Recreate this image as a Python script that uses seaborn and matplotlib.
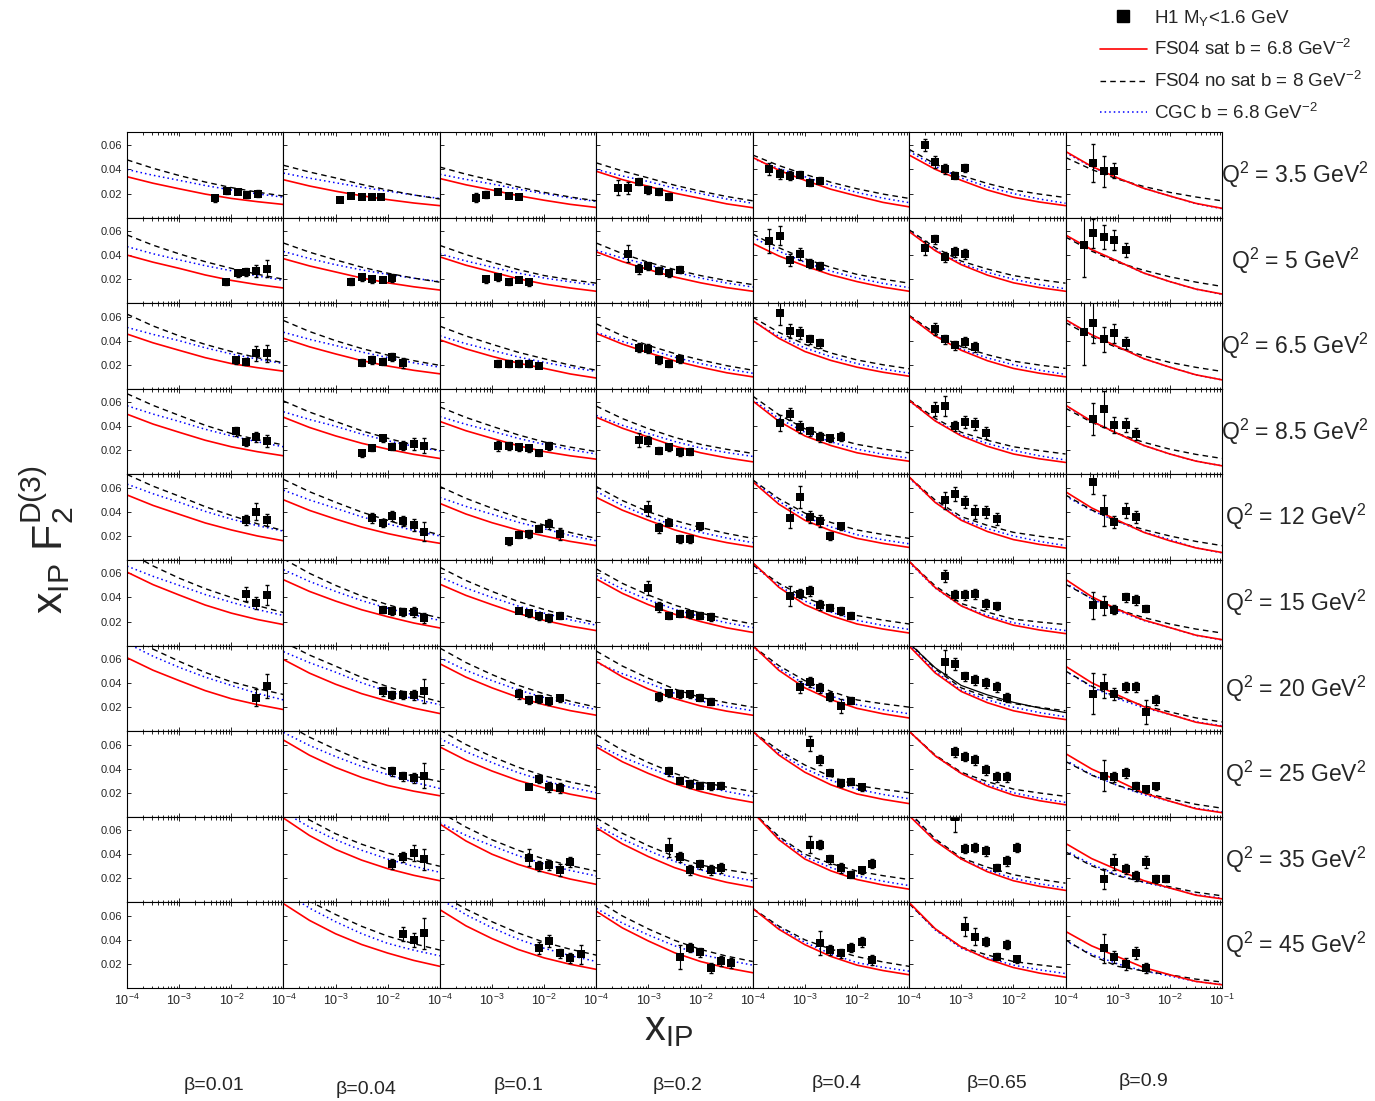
import matplotlib
matplotlib.use("Agg")
import matplotlib.pyplot as plt
from matplotlib.lines import Line2D
from matplotlib.ticker import LogLocator, NullFormatter
import seaborn as sns

# x grid where the model curves are read (log10 x_IP = -4, -3.5, ..., -1)
XGRID = [1e-4, 3.16e-4, 1e-3, 3.16e-3, 1e-2, 3.16e-2, 1e-1]
Q2_VALUES = ["3.5", "5", "6.5", "8.5", "12", "15", "20", "25", "35", "45"]
BETAS = ["0.01", "0.04", "0.1", "0.2", "0.4", "0.65", "0.9"]

# FS04 sat (red), rows = Q2, cols = beta
SAT = [
    [[0.034, 0.0286, 0.024, 0.0196, 0.016, 0.0133, 0.011], [0.0315, 0.0263, 0.022, 0.0182, 0.015, 0.0122, 0.010], [0.0325, 0.0273, 0.023, 0.0183, 0.0145, 0.0111, 0.0085], [0.0385, 0.0316, 0.026, 0.0204, 0.016, 0.0115, 0.0083], [0.050, 0.0394, 0.031, 0.0236, 0.018, 0.0127, 0.009], [0.052, 0.0402, 0.031, 0.023, 0.017, 0.0130, 0.010], [0.055, 0.0426, 0.033, 0.0244, 0.018, 0.0119, 0.0078]],
    [[0.040, 0.0341, 0.029, 0.0235, 0.019, 0.0155, 0.0127], [0.037, 0.0310, 0.026, 0.0210, 0.017, 0.0137, 0.011], [0.0385, 0.0316, 0.026, 0.0204, 0.016, 0.0127, 0.010], [0.0427, 0.0346, 0.028, 0.0218, 0.017, 0.0130, 0.010], [0.0497, 0.0393, 0.031, 0.0236, 0.018, 0.0134, 0.010], [0.0595, 0.0437, 0.032, 0.0234, 0.017, 0.0130, 0.010], [0.0567, 0.0446, 0.035, 0.0251, 0.018, 0.0118, 0.0077]],
    [[0.0455, 0.0382, 0.032, 0.0259, 0.021, 0.0176, 0.0147], [0.042, 0.0349, 0.029, 0.0235, 0.019, 0.0154, 0.0125], [0.0407, 0.0332, 0.027, 0.0214, 0.017, 0.0124, 0.009], [0.046, 0.0372, 0.030, 0.0233, 0.018, 0.0134, 0.010], [0.0567, 0.0420, 0.031, 0.0236, 0.018, 0.0138, 0.0105], [0.0603, 0.0440, 0.032, 0.0234, 0.017, 0.0130, 0.010], [0.0575, 0.0449, 0.035, 0.0251, 0.018, 0.0117, 0.0075]],
    [[0.050, 0.0418, 0.035, 0.0284, 0.023, 0.0189, 0.0155], [0.0475, 0.0390, 0.032, 0.0259, 0.021, 0.0167, 0.0133], [0.044, 0.0363, 0.030, 0.0239, 0.019, 0.0155, 0.0127], [0.0475, 0.0384, 0.031, 0.0236, 0.018, 0.0138, 0.0105], [0.061, 0.0442, 0.032, 0.0240, 0.018, 0.0141, 0.011], [0.0615, 0.0444, 0.032, 0.0234, 0.017, 0.0130, 0.010], [0.0575, 0.0442, 0.034, 0.0241, 0.017, 0.0111, 0.0072]],
    [[0.054, 0.0453, 0.038, 0.0308, 0.025, 0.0200, 0.016], [0.050, 0.0412, 0.034, 0.0274, 0.022, 0.0175, 0.0139], [0.047, 0.0382, 0.031, 0.0249, 0.020, 0.0155, 0.012], [0.052, 0.0414, 0.033, 0.0251, 0.019, 0.0145, 0.011], [0.065, 0.0464, 0.033, 0.0244, 0.018, 0.0138, 0.0105], [0.069, 0.0478, 0.033, 0.0237, 0.017, 0.0130, 0.010], [0.0567, 0.0433, 0.033, 0.0230, 0.016, 0.0101, 0.0063]],
    [[0.061, 0.0506, 0.042, 0.0337, 0.027, 0.0217, 0.0175], [0.0547, 0.0450, 0.037, 0.0298, 0.024, 0.0188, 0.0147], [0.051, 0.0417, 0.034, 0.0267, 0.021, 0.0162, 0.0125], [0.0553, 0.0434, 0.034, 0.0261, 0.020, 0.0148, 0.011], [0.069, 0.0485, 0.034, 0.0248, 0.018, 0.0138, 0.0105], [0.070, 0.0482, 0.033, 0.0237, 0.017, 0.0130, 0.010], [0.055, 0.0407, 0.030, 0.0213, 0.015, 0.0087, 0.005]],
    [[0.061, 0.0506, 0.042, 0.0337, 0.027, 0.0221, 0.018], [0.0595, 0.0482, 0.039, 0.0312, 0.025, 0.0192, 0.0147], [0.056, 0.0449, 0.036, 0.0282, 0.022, 0.0171, 0.0133], [0.058, 0.0451, 0.035, 0.0271, 0.021, 0.0167, 0.0133], [0.071, 0.0506, 0.036, 0.0262, 0.019, 0.0145, 0.011], [0.0707, 0.0484, 0.033, 0.0237, 0.017, 0.0128, 0.0097], [0.054, 0.0403, 0.030, 0.0205, 0.014, 0.0075, 0.004]],
    [None, [0.0637, 0.0511, 0.041, 0.0327, 0.026, 0.0213, 0.0175], [0.058, 0.0470, 0.038, 0.0302, 0.024, 0.0188, 0.0147], [0.058, 0.0457, 0.036, 0.0275, 0.021, 0.0159, 0.012], [0.071, 0.0513, 0.037, 0.0266, 0.019, 0.0145, 0.011], [0.071, 0.0506, 0.036, 0.0255, 0.018, 0.0134, 0.010], [0.0525, 0.0397, 0.030, 0.0198, 0.013, 0.0067, 0.0035]],
    [None, [0.070, 0.0555, 0.044, 0.0351, 0.028, 0.0225, 0.018], [0.065, 0.0510, 0.040, 0.0316, 0.025, 0.0194, 0.015], [0.062, 0.0486, 0.038, 0.0289, 0.022, 0.0167, 0.0127], [0.075, 0.0521, 0.036, 0.0262, 0.019, 0.0145, 0.011], [0.072, 0.0510, 0.036, 0.0255, 0.018, 0.0134, 0.010], [0.049, 0.0364, 0.027, 0.0181, 0.012, 0.0060, 0.003]],
    [None, [0.070, 0.0561, 0.045, 0.0361, 0.029, 0.0229, 0.018], [0.065, 0.0516, 0.041, 0.0320, 0.025, 0.0197, 0.0155], [0.0637, 0.0499, 0.039, 0.0293, 0.022, 0.0167, 0.0127], [0.066, 0.0488, 0.036, 0.0262, 0.019, 0.0145, 0.011], [0.071, 0.0492, 0.034, 0.0241, 0.017, 0.0124, 0.009], [0.047, 0.0350, 0.026, 0.0170, 0.011, 0.0055, 0.0027]],
]

# FS04 no sat (black dashed)
NOSAT = [
    [[0.048, 0.0410, 0.035, 0.0296, 0.025, 0.0212, 0.018], [0.0435, 0.0379, 0.033, 0.0276, 0.023, 0.0189, 0.0155], [0.042, 0.0361, 0.031, 0.0255, 0.021, 0.0172, 0.014], [0.0455, 0.0388, 0.033, 0.0270, 0.022, 0.0176, 0.014], [0.052, 0.0433, 0.036, 0.0294, 0.024, 0.0196, 0.016], [0.0567, 0.0446, 0.035, 0.0284, 0.023, 0.0196, 0.0167], [0.050, 0.0400, 0.032, 0.0259, 0.021, 0.0172, 0.014]],
    [[0.0567, 0.0482, 0.041, 0.0345, 0.029, 0.0241, 0.020], [0.050, 0.0424, 0.036, 0.0300, 0.025, 0.0209, 0.0175], [0.048, 0.0404, 0.034, 0.0280, 0.023, 0.0196, 0.0167], [0.050, 0.0412, 0.034, 0.0280, 0.023, 0.0189, 0.0155], [0.0575, 0.0461, 0.037, 0.0298, 0.024, 0.0200, 0.0167], [0.061, 0.0462, 0.035, 0.0284, 0.023, 0.0196, 0.0167], [0.055, 0.0433, 0.034, 0.0274, 0.022, 0.0176, 0.014]],
    [[0.062, 0.0522, 0.044, 0.0369, 0.031, 0.0259, 0.0217], [0.0567, 0.0476, 0.040, 0.0335, 0.028, 0.0234, 0.0195], [0.052, 0.0439, 0.037, 0.0304, 0.025, 0.0197, 0.0155], [0.054, 0.0441, 0.036, 0.0294, 0.024, 0.0193, 0.0155], [0.0595, 0.0469, 0.037, 0.0298, 0.024, 0.0200, 0.0167], [0.061, 0.0462, 0.035, 0.0284, 0.023, 0.0198, 0.017], [0.055, 0.0433, 0.034, 0.0274, 0.022, 0.0179, 0.0145]],
    [[0.067, 0.0573, 0.049, 0.0408, 0.034, 0.0289, 0.0245], [0.061, 0.0518, 0.044, 0.0363, 0.030, 0.0245, 0.020], [0.056, 0.0473, 0.040, 0.0329, 0.027, 0.0227, 0.019], [0.0567, 0.0464, 0.038, 0.0308, 0.025, 0.0209, 0.0175], [0.065, 0.0497, 0.038, 0.0308, 0.025, 0.0212, 0.018], [0.062, 0.0466, 0.035, 0.0284, 0.023, 0.0198, 0.017], [0.055, 0.0433, 0.034, 0.0267, 0.021, 0.0167, 0.0133]],
    [[0.071, 0.0613, 0.053, 0.0443, 0.037, 0.0301, 0.0245], [0.067, 0.0567, 0.048, 0.0398, 0.033, 0.0263, 0.021], [0.061, 0.0512, 0.043, 0.0353, 0.029, 0.0229, 0.018], [0.061, 0.0494, 0.040, 0.0329, 0.027, 0.0221, 0.018], [0.0665, 0.0510, 0.039, 0.0312, 0.025, 0.0212, 0.018], [0.0688, 0.0498, 0.036, 0.0288, 0.023, 0.0198, 0.017], [0.054, 0.0416, 0.032, 0.0253, 0.020, 0.0155, 0.012]],
    [[0.078, 0.0661, 0.056, 0.0473, 0.040, 0.0332, 0.0275], [0.072, 0.0600, 0.050, 0.0412, 0.034, 0.0280, 0.023], [0.065, 0.0541, 0.045, 0.0367, 0.030, 0.0239, 0.019], [0.0637, 0.0517, 0.042, 0.0337, 0.027, 0.0221, 0.018], [0.067, 0.0518, 0.040, 0.0316, 0.025, 0.0212, 0.018], [0.070, 0.0496, 0.035, 0.0278, 0.022, 0.0196, 0.0175], [0.051, 0.0391, 0.030, 0.0233, 0.018, 0.0138, 0.0105]],
    [[0.080, 0.0681, 0.058, 0.0488, 0.041, 0.0354, 0.0305], [0.074, 0.0632, 0.054, 0.0447, 0.037, 0.0301, 0.0245], [0.069, 0.0570, 0.047, 0.0382, 0.031, 0.0249, 0.020], [0.0665, 0.0541, 0.044, 0.0351, 0.028, 0.0237, 0.020], [0.0707, 0.0545, 0.042, 0.0331, 0.026, 0.0228, 0.020], [0.074, 0.0517, 0.036, 0.0284, 0.023, 0.0198, 0.017], [0.050, 0.0374, 0.028, 0.0212, 0.016, 0.0111, 0.0077]],
    [None, [0.078, 0.0661, 0.056, 0.0467, 0.039, 0.0338, 0.0293], [0.072, 0.0600, 0.050, 0.0412, 0.034, 0.0289, 0.0245], [0.068, 0.0553, 0.045, 0.0361, 0.029, 0.0247, 0.021], [0.0707, 0.0552, 0.043, 0.0335, 0.026, 0.0228, 0.020], [0.071, 0.0513, 0.037, 0.0292, 0.023, 0.0198, 0.017], [0.046, 0.0346, 0.026, 0.0198, 0.015, 0.0104, 0.0072]],
    [None, [0.082, 0.0684, 0.057, 0.0483, 0.041, 0.0351, 0.030], [0.075, 0.0625, 0.052, 0.0433, 0.036, 0.0306, 0.026], [0.070, 0.0574, 0.047, 0.0382, 0.031, 0.0271, 0.0237], [0.075, 0.0548, 0.040, 0.0323, 0.026, 0.0222, 0.019], [0.075, 0.0528, 0.037, 0.0292, 0.023, 0.0192, 0.016], [0.042, 0.0304, 0.022, 0.0169, 0.013, 0.0085, 0.0055]],
    [None, [0.085, 0.0720, 0.061, 0.0512, 0.043, 0.0368, 0.0315], [0.078, 0.0655, 0.055, 0.0457, 0.038, 0.0322, 0.0273], [0.073, 0.0598, 0.049, 0.0396, 0.032, 0.0265, 0.022], [0.066, 0.0514, 0.040, 0.0323, 0.026, 0.0216, 0.018], [0.070, 0.0489, 0.034, 0.0274, 0.022, 0.0192, 0.0167], [0.040, 0.0269, 0.018, 0.0141, 0.011, 0.0074, 0.005]],
]

# CGC (blue dotted)
CGC = [
    [[0.040, 0.0352, 0.031, 0.0267, 0.023, 0.0198, 0.017], [0.037, 0.0328, 0.029, 0.0253, 0.022, 0.0188, 0.016], [0.036, 0.0318, 0.028, 0.0237, 0.020, 0.0164, 0.0135], [0.040, 0.0346, 0.030, 0.0245, 0.020, 0.0155, 0.012], [0.049, 0.0408, 0.034, 0.0267, 0.021, 0.0162, 0.0125], [0.055, 0.0426, 0.033, 0.0257, 0.020, 0.0155, 0.012], [0.054, 0.0422, 0.033, 0.0244, 0.018, 0.0117, 0.0075]],
    [[0.047, 0.0411, 0.036, 0.0312, 0.027, 0.0227, 0.019], [0.043, 0.0371, 0.032, 0.0277, 0.024, 0.0208, 0.018], [0.041, 0.0351, 0.030, 0.0251, 0.021, 0.0178, 0.015], [0.044, 0.0375, 0.032, 0.0259, 0.021, 0.0168, 0.0135], [0.055, 0.0433, 0.034, 0.0267, 0.021, 0.0165, 0.013], [0.060, 0.0445, 0.033, 0.0257, 0.020, 0.0155, 0.012], [0.056, 0.0443, 0.035, 0.0251, 0.018, 0.0117, 0.0075]],
    [[0.051, 0.0452, 0.040, 0.0341, 0.029, 0.0247, 0.021], [0.047, 0.0411, 0.036, 0.0306, 0.026, 0.0216, 0.018], [0.044, 0.0375, 0.032, 0.0265, 0.022, 0.0179, 0.0145], [0.047, 0.0394, 0.033, 0.0263, 0.021, 0.0165, 0.013], [0.056, 0.0437, 0.034, 0.0267, 0.021, 0.0165, 0.013], [0.060, 0.0445, 0.033, 0.0257, 0.020, 0.0155, 0.012], [0.057, 0.0447, 0.035, 0.0251, 0.018, 0.0117, 0.0075]],
    [[0.057, 0.0501, 0.044, 0.0375, 0.032, 0.0271, 0.023], [0.052, 0.0456, 0.040, 0.0335, 0.028, 0.0234, 0.0195], [0.048, 0.0416, 0.036, 0.0300, 0.025, 0.0206, 0.017], [0.049, 0.0408, 0.034, 0.0274, 0.022, 0.0182, 0.015], [0.062, 0.0466, 0.035, 0.0271, 0.021, 0.0168, 0.0135], [0.061, 0.0449, 0.033, 0.0257, 0.020, 0.0155, 0.012], [0.057, 0.0441, 0.034, 0.0241, 0.017, 0.0111, 0.0072]],
    [[0.063, 0.0550, 0.048, 0.0404, 0.034, 0.0286, 0.024], [0.058, 0.0499, 0.043, 0.0359, 0.030, 0.0245, 0.020], [0.052, 0.0445, 0.038, 0.0314, 0.026, 0.0204, 0.016], [0.057, 0.0453, 0.036, 0.0288, 0.023, 0.0183, 0.0145], [0.066, 0.0488, 0.036, 0.0275, 0.021, 0.0168, 0.0135], [0.068, 0.0482, 0.034, 0.0261, 0.020, 0.0155, 0.012], [0.053, 0.0412, 0.032, 0.0234, 0.017, 0.0101, 0.006]],
    [[0.066, 0.0575, 0.050, 0.0424, 0.036, 0.0300, 0.025], [0.063, 0.0533, 0.045, 0.0374, 0.031, 0.0255, 0.021], [0.057, 0.0478, 0.040, 0.0329, 0.027, 0.0214, 0.017], [0.058, 0.0470, 0.038, 0.0302, 0.024, 0.0190, 0.015], [0.067, 0.0498, 0.037, 0.0279, 0.021, 0.0168, 0.0135], [0.069, 0.0478, 0.033, 0.0251, 0.019, 0.0154, 0.0125], [0.052, 0.0389, 0.029, 0.0209, 0.015, 0.0085, 0.0048]],
    [[0.073, 0.0622, 0.053, 0.0449, 0.038, 0.0314, 0.026], [0.066, 0.0569, 0.049, 0.0402, 0.033, 0.0269, 0.022], [0.061, 0.0506, 0.042, 0.0343, 0.028, 0.0225, 0.018], [0.057, 0.0478, 0.040, 0.0316, 0.025, 0.0206, 0.017], [0.070, 0.0523, 0.039, 0.0293, 0.022, 0.0179, 0.0145], [0.072, 0.0496, 0.034, 0.0261, 0.020, 0.0155, 0.012], [0.050, 0.0368, 0.027, 0.0195, 0.014, 0.0079, 0.0045]],
    [None, [0.070, 0.0592, 0.050, 0.0418, 0.035, 0.0287, 0.0235], [0.065, 0.0541, 0.045, 0.0367, 0.030, 0.0245, 0.020], [0.060, 0.0496, 0.041, 0.0327, 0.026, 0.0210, 0.017], [0.070, 0.0530, 0.040, 0.0304, 0.023, 0.0186, 0.015], [0.071, 0.0506, 0.036, 0.0269, 0.020, 0.0155, 0.012], [0.047, 0.0350, 0.026, 0.0184, 0.013, 0.0072, 0.004]],
    [None, [0.075, 0.0625, 0.052, 0.0433, 0.036, 0.0300, 0.025], [0.066, 0.0557, 0.047, 0.0388, 0.032, 0.0265, 0.022], [0.064, 0.0525, 0.043, 0.0341, 0.027, 0.0221, 0.018], [0.075, 0.0535, 0.038, 0.0289, 0.022, 0.0176, 0.014], [0.074, 0.0517, 0.036, 0.0269, 0.020, 0.0155, 0.012], [0.043, 0.0315, 0.023, 0.0166, 0.012, 0.0065, 0.0035]],
    [None, [0.080, 0.0663, 0.055, 0.0451, 0.037, 0.0314, 0.0267], [0.074, 0.0608, 0.050, 0.0406, 0.033, 0.0269, 0.022], [0.066, 0.0539, 0.044, 0.0351, 0.028, 0.0231, 0.019], [0.066, 0.0501, 0.038, 0.0283, 0.021, 0.0172, 0.014], [0.070, 0.0482, 0.033, 0.0251, 0.019, 0.0151, 0.012], [0.039, 0.0280, 0.020, 0.0142, 0.010, 0.0055, 0.003]],
]

# extra black solid curve drawn in the Q2=20, beta=0.65 panel
EXTRA_PANEL = (6, 5)
EXTRA_CURVE = [0.073, 0.0527, 0.038, 0.0302, 0.024, 0.0193, 0.0155]

# H1 data: (row, col) -> [(log10 x_IP, xF2, error), ...]
H1 = {
    (0, 0): [(-2.32, 0.016, 0.003), (-2.08, 0.022, 0.002), (-1.88, 0.0217, 0.002), (-1.69, 0.019, 0.003), (-1.49, 0.020, 0.003)],
    (0, 1): [(-2.92, 0.0147, 0.002), (-2.70, 0.018, 0.002), (-2.49, 0.0175, 0.002), (-2.30, 0.0175, 0.002), (-2.12, 0.0172, 0.002)],
    (0, 2): [(-3.31, 0.0167, 0.004), (-3.11, 0.019, 0.003), (-2.89, 0.0217, 0.002), (-2.68, 0.018, 0.002), (-2.49, 0.0175, 0.002)],
    (0, 3): [(-3.59, 0.025, 0.006), (-3.39, 0.025, 0.005), (-3.18, 0.030, 0.003), (-3.00, 0.023, 0.003), (-2.79, 0.0217, 0.003), (-2.60, 0.0175, 0.003)],
    (0, 4): [(-3.69, 0.0407, 0.005), (-3.48, 0.036, 0.004), (-3.29, 0.035, 0.004), (-3.09, 0.0357, 0.003), (-2.90, 0.029, 0.003), (-2.70, 0.0307, 0.003)],
    (0, 5): [(-3.70, 0.0603, 0.005), (-3.51, 0.046, 0.005), (-3.31, 0.0405, 0.004), (-3.12, 0.0348, 0.003), (-2.92, 0.0413, 0.003)],
    (0, 6): [(-3.47, 0.0455, 0.016), (-3.26, 0.0385, 0.013), (-3.07, 0.039, 0.006)],
    (1, 0): [(-2.10, 0.0175, 0.002), (-1.88, 0.025, 0.003), (-1.71, 0.026, 0.003), (-1.52, 0.027, 0.005), (-1.32, 0.0287, 0.007)],
    (1, 1): [(-2.70, 0.018, 0.003), (-2.49, 0.0217, 0.003), (-2.30, 0.020, 0.003), (-2.10, 0.0197, 0.002), (-1.91, 0.021, 0.003)],
    (1, 2): [(-3.11, 0.020, 0.003), (-2.89, 0.0217, 0.003), (-2.68, 0.0175, 0.002), (-2.49, 0.0195, 0.002), (-2.29, 0.0175, 0.003)],
    (1, 3): [(-3.39, 0.041, 0.007), (-3.18, 0.0287, 0.004), (-3.00, 0.031, 0.003), (-2.79, 0.027, 0.003), (-2.60, 0.025, 0.003), (-2.40, 0.028, 0.003)],
    (1, 4): [(-3.69, 0.052, 0.010), (-3.48, 0.056, 0.008), (-3.29, 0.0357, 0.005), (-3.09, 0.041, 0.005), (-2.90, 0.033, 0.004), (-2.70, 0.031, 0.003)],
    (1, 5): [(-3.70, 0.046, 0.006), (-3.51, 0.053, 0.004), (-3.31, 0.0385, 0.004), (-3.12, 0.0427, 0.004), (-2.92, 0.041, 0.004)],
    (1, 6): [(-3.65, 0.048, 0.026), (-3.47, 0.058, 0.012), (-3.26, 0.055, 0.010), (-3.07, 0.0525, 0.008), (-2.84, 0.044, 0.006)],
    (2, 0): [(-1.91, 0.0237, 0.003), (-1.71, 0.0225, 0.003), (-1.52, 0.0295, 0.006), (-1.32, 0.0295, 0.007)],
    (2, 1): [(-2.49, 0.0217, 0.003), (-2.30, 0.024, 0.003), (-2.10, 0.0225, 0.003), (-1.91, 0.0265, 0.003), (-1.71, 0.0217, 0.004)],
    (2, 2): [(-2.89, 0.021, 0.003), (-2.68, 0.021, 0.003), (-2.49, 0.021, 0.003), (-2.29, 0.021, 0.003), (-2.10, 0.019, 0.002)],
    (2, 3): [(-3.18, 0.0343, 0.004), (-3.00, 0.0335, 0.004), (-2.79, 0.0237, 0.003), (-2.60, 0.021, 0.003), (-2.40, 0.0245, 0.003)],
    (2, 4): [(-3.48, 0.063, 0.010), (-3.29, 0.048, 0.006), (-3.09, 0.046, 0.005), (-2.90, 0.041, 0.004), (-2.70, 0.0377, 0.004)],
    (2, 5): [(-3.51, 0.050, 0.005), (-3.31, 0.041, 0.004), (-3.12, 0.036, 0.004), (-2.92, 0.039, 0.004), (-2.73, 0.0348, 0.004)],
    (2, 6): [(-3.65, 0.0475, 0.028), (-3.47, 0.055, 0.017), (-3.26, 0.041, 0.010), (-3.07, 0.046, 0.008), (-2.84, 0.0377, 0.005)],
    (3, 0): [(-1.91, 0.0357, 0.004), (-1.71, 0.0267, 0.003), (-1.52, 0.031, 0.004), (-1.32, 0.028, 0.005)],
    (3, 1): [(-2.49, 0.0175, 0.003), (-2.30, 0.0217, 0.002), (-2.10, 0.030, 0.003), (-1.91, 0.023, 0.003), (-1.71, 0.024, 0.004), (-1.50, 0.025, 0.005), (-1.31, 0.024, 0.006)],
    (3, 2): [(-2.89, 0.0237, 0.004), (-2.68, 0.0237, 0.003), (-2.49, 0.0225, 0.003), (-2.29, 0.0217, 0.003), (-2.10, 0.0175, 0.002), (-1.90, 0.0237, 0.003)],
    (3, 3): [(-3.18, 0.0287, 0.006), (-3.00, 0.028, 0.004), (-2.79, 0.0197, 0.003), (-2.60, 0.0225, 0.003), (-2.40, 0.0183, 0.003), (-2.21, 0.019, 0.003)],
    (3, 4): [(-3.48, 0.0427, 0.007), (-3.29, 0.050, 0.005), (-3.09, 0.039, 0.005), (-2.90, 0.0357, 0.004), (-2.70, 0.031, 0.004), (-2.51, 0.030, 0.003), (-2.30, 0.0315, 0.004)],
    (3, 5): [(-3.51, 0.0545, 0.006), (-3.31, 0.0567, 0.008), (-3.12, 0.040, 0.004), (-2.92, 0.0435, 0.005), (-2.73, 0.042, 0.005), (-2.52, 0.0343, 0.005)],
    (3, 6): [(-3.47, 0.046, 0.013), (-3.26, 0.0545, 0.015), (-3.07, 0.041, 0.007), (-2.84, 0.041, 0.006), (-2.65, 0.0335, 0.005)],
    (4, 0): [(-1.71, 0.0335, 0.004), (-1.52, 0.040, 0.007), (-1.32, 0.033, 0.005)],
    (4, 1): [(-2.30, 0.035, 0.004), (-2.10, 0.0307, 0.003), (-1.91, 0.0365, 0.004), (-1.71, 0.0323, 0.004), (-1.50, 0.029, 0.005), (-1.31, 0.0237, 0.008)],
    (4, 2): [(-2.68, 0.0155, 0.003), (-2.49, 0.021, 0.003), (-2.29, 0.0217, 0.003), (-2.10, 0.026, 0.003), (-1.90, 0.030, 0.004), (-1.69, 0.0217, 0.005)],
    (4, 3): [(-3.00, 0.0427, 0.006), (-2.79, 0.0267, 0.004), (-2.60, 0.031, 0.003), (-2.40, 0.0175, 0.003), (-2.21, 0.0175, 0.003), (-2.01, 0.028, 0.003)],
    (4, 4): [(-3.29, 0.035, 0.008), (-3.09, 0.0525, 0.009), (-2.90, 0.0357, 0.005), (-2.70, 0.0323, 0.005), (-2.51, 0.020, 0.003), (-2.30, 0.028, 0.003)],
    (4, 5): [(-3.31, 0.0497, 0.007), (-3.12, 0.0547, 0.006), (-2.92, 0.048, 0.005), (-2.73, 0.040, 0.006), (-2.52, 0.040, 0.005), (-2.32, 0.0343, 0.005)],
    (4, 6): [(-3.47, 0.065, 0.010), (-3.26, 0.041, 0.013), (-3.07, 0.0315, 0.005), (-2.84, 0.041, 0.006), (-2.65, 0.036, 0.005)],
    (5, 0): [(-1.71, 0.0427, 0.006), (-1.52, 0.0357, 0.005), (-1.32, 0.042, 0.008)],
    (5, 1): [(-2.10, 0.030, 0.003), (-1.91, 0.0287, 0.003), (-1.71, 0.028, 0.003), (-1.50, 0.028, 0.004), (-1.31, 0.023, 0.004)],
    (5, 2): [(-2.49, 0.0287, 0.002), (-2.29, 0.0267, 0.003), (-2.10, 0.0245, 0.003), (-1.90, 0.023, 0.003), (-1.69, 0.025, 0.003)],
    (5, 3): [(-3.00, 0.048, 0.006), (-2.79, 0.0323, 0.004), (-2.60, 0.025, 0.003), (-2.40, 0.0265, 0.003), (-2.21, 0.026, 0.003), (-2.01, 0.025, 0.003), (-1.80, 0.0237, 0.003)],
    (5, 4): [(-3.29, 0.0413, 0.008), (-3.09, 0.0432, 0.004), (-2.90, 0.0455, 0.004), (-2.70, 0.0337, 0.004), (-2.51, 0.0315, 0.003), (-2.30, 0.0287, 0.003), (-2.12, 0.025, 0.003)],
    (5, 5): [(-3.31, 0.0575, 0.005), (-3.12, 0.042, 0.004), (-2.92, 0.042, 0.004), (-2.73, 0.0427, 0.004), (-2.52, 0.0343, 0.004), (-2.32, 0.033, 0.003)],
    (5, 6): [(-3.47, 0.0335, 0.011), (-3.26, 0.0335, 0.008), (-3.07, 0.030, 0.004), (-2.84, 0.040, 0.004), (-2.65, 0.0377, 0.004), (-2.46, 0.0307, 0.003)],
    (6, 0): [(-1.52, 0.028, 0.007), (-1.32, 0.0377, 0.010)],
    (6, 1): [(-2.10, 0.033, 0.004), (-1.91, 0.030, 0.003), (-1.71, 0.030, 0.003), (-1.50, 0.030, 0.004), (-1.31, 0.0335, 0.010)],
    (6, 2): [(-2.49, 0.031, 0.004), (-2.29, 0.026, 0.003), (-2.10, 0.0267, 0.003), (-1.90, 0.025, 0.003), (-1.69, 0.0273, 0.003)],
    (6, 3): [(-2.79, 0.0287, 0.004), (-2.60, 0.0315, 0.003), (-2.40, 0.031, 0.003), (-2.21, 0.0307, 0.003), (-2.01, 0.028, 0.003), (-1.80, 0.0245, 0.003)],
    (6, 4): [(-3.09, 0.037, 0.005), (-2.90, 0.041, 0.004), (-2.70, 0.036, 0.004), (-2.51, 0.0287, 0.004), (-2.30, 0.021, 0.006), (-2.12, 0.0253, 0.003)],
    (6, 5): [(-3.31, 0.0575, 0.010), (-3.12, 0.056, 0.005), (-2.92, 0.0455, 0.004), (-2.73, 0.0427, 0.004), (-2.52, 0.040, 0.004), (-2.32, 0.0365, 0.004), (-2.13, 0.028, 0.004)],
    (6, 6): [(-3.47, 0.031, 0.017), (-3.26, 0.0377, 0.010), (-3.07, 0.0307, 0.005), (-2.84, 0.0365, 0.004), (-2.65, 0.0365, 0.004), (-2.46, 0.016, 0.010), (-2.27, 0.026, 0.004)],
    (7, 1): [(-1.91, 0.0377, 0.004), (-1.71, 0.0335, 0.004), (-1.50, 0.032, 0.004), (-1.31, 0.0343, 0.010)],
    (7, 2): [(-2.29, 0.025, 0.002), (-2.10, 0.031, 0.003), (-1.90, 0.0245, 0.004), (-1.69, 0.0237, 0.004)],
    (7, 3): [(-2.60, 0.0377, 0.004), (-2.40, 0.030, 0.003), (-2.21, 0.0273, 0.003), (-2.01, 0.026, 0.003), (-1.80, 0.0253, 0.003), (-1.60, 0.026, 0.003)],
    (7, 4): [(-2.90, 0.061, 0.006), (-2.70, 0.047, 0.004), (-2.51, 0.0365, 0.003), (-2.30, 0.028, 0.003), (-2.12, 0.0293, 0.003), (-1.91, 0.0245, 0.003)],
    (7, 5): [(-3.12, 0.054, 0.004), (-2.92, 0.050, 0.004), (-2.73, 0.047, 0.004), (-2.52, 0.039, 0.004), (-2.32, 0.033, 0.004), (-2.13, 0.033, 0.004)],
    (7, 6): [(-3.26, 0.0343, 0.013), (-3.07, 0.033, 0.004), (-2.84, 0.0365, 0.004), (-2.65, 0.0253, 0.004), (-2.46, 0.023, 0.003), (-2.27, 0.0253, 0.003)],
    (8, 1): [(-1.91, 0.032, 0.004), (-1.71, 0.0377, 0.004), (-1.50, 0.041, 0.007), (-1.31, 0.0357, 0.009)],
    (8, 2): [(-2.29, 0.037, 0.007), (-2.10, 0.030, 0.004), (-1.90, 0.031, 0.004), (-1.69, 0.0273, 0.005), (-1.50, 0.0335, 0.004)],
    (8, 3): [(-2.60, 0.0455, 0.008), (-2.40, 0.0377, 0.004), (-2.21, 0.0267, 0.004), (-2.01, 0.0315, 0.004), (-1.80, 0.0267, 0.004), (-1.60, 0.0287, 0.004)],
    (8, 4): [(-2.90, 0.048, 0.007), (-2.70, 0.048, 0.004), (-2.51, 0.0357, 0.004), (-2.30, 0.0287, 0.004), (-2.12, 0.023, 0.003), (-1.91, 0.0267, 0.003), (-1.71, 0.0323, 0.004)],
    (8, 5): [(-3.12, 0.0707, 0.012), (-2.92, 0.0447, 0.004), (-2.73, 0.0455, 0.004), (-2.52, 0.0427, 0.004), (-2.32, 0.0287, 0.003), (-2.13, 0.0343, 0.004), (-1.93, 0.0455, 0.004)],
    (8, 6): [(-3.26, 0.0195, 0.008), (-3.07, 0.0335, 0.007), (-2.84, 0.028, 0.004), (-2.65, 0.0217, 0.004), (-2.46, 0.0335, 0.005), (-2.27, 0.0195, 0.003), (-2.07, 0.0197, 0.003)],
    (9, 1): [(-1.71, 0.0447, 0.006), (-1.50, 0.040, 0.006), (-1.31, 0.0455, 0.013)],
    (9, 2): [(-2.10, 0.033, 0.005), (-1.90, 0.039, 0.005), (-1.69, 0.0287, 0.004), (-1.50, 0.025, 0.004), (-1.30, 0.028, 0.008)],
    (9, 3): [(-2.40, 0.026, 0.010), (-2.21, 0.0335, 0.004), (-2.01, 0.0295, 0.004), (-1.80, 0.0167, 0.004), (-1.60, 0.0225, 0.004), (-1.41, 0.021, 0.004)],
    (9, 4): [(-2.70, 0.037, 0.010), (-2.51, 0.0315, 0.004), (-2.30, 0.0287, 0.004), (-2.12, 0.0335, 0.004), (-1.91, 0.038, 0.004), (-1.71, 0.023, 0.004)],
    (9, 5): [(-2.92, 0.051, 0.008), (-2.73, 0.0427, 0.007), (-2.52, 0.0385, 0.004), (-2.32, 0.026, 0.003), (-2.13, 0.036, 0.004), (-1.93, 0.0237, 0.003)],
    (9, 6): [(-3.26, 0.033, 0.012), (-3.07, 0.026, 0.005), (-2.84, 0.0203, 0.005), (-2.65, 0.0287, 0.005), (-2.46, 0.0167, 0.004)],
}

sns.set_theme(style="ticks")
plt.rcParams["font.family"] = ["Liberation Sans", "DejaVu Sans"]
plt.rcParams["mathtext.fontset"] = "custom"
plt.rcParams["mathtext.rm"] = "Liberation Sans"
plt.rcParams["mathtext.it"] = "Liberation Sans"

n_rows, n_cols = len(Q2_VALUES), len(BETAS)
fig, axes = plt.subplots(n_rows, n_cols, figsize=(13.75, 11.01), dpi=100)
fig.subplots_adjust(left=0.0924, right=0.8887, top=0.880, bottom=0.1026, wspace=0, hspace=0)

for r in range(n_rows):
    for c in range(n_cols):
        ax = axes[r, c]
        ax.set_xscale("log")
        ax.set_xlim(1e-4, 1e-1)
        ax.set_ylim(0.0, 0.071)

        if SAT[r][c] is not None:
            sns.lineplot(x=XGRID, y=CGC[r][c], ax=ax, color="blue", linestyle=(0, (1, 2)), linewidth=1.1)
            sns.lineplot(x=XGRID, y=NOSAT[r][c], ax=ax, color="black", linestyle=(0, (4, 3)), linewidth=1.0)
            sns.lineplot(x=XGRID, y=SAT[r][c], ax=ax, color="red", linewidth=1.2)
            if (r, c) == EXTRA_PANEL:
                sns.lineplot(x=XGRID, y=EXTRA_CURVE, ax=ax, color="black", linewidth=0.9)

        pts = H1.get((r, c))
        if pts:
            xs = [10 ** p[0] for p in pts]
            ys = [p[1] for p in pts]
            es = [p[2] for p in pts]
            ax.errorbar(xs, ys, yerr=es, fmt="none", ecolor="black", elinewidth=0.8, capsize=1.2, zorder=4)
            sns.scatterplot(x=xs, y=ys, ax=ax, marker="s", color="black", s=26, edgecolor="black", linewidth=0, zorder=5)

        ax.set_yticks([0.02, 0.04, 0.06])
        ax.xaxis.set_minor_locator(LogLocator(base=10, subs=range(2, 10), numticks=20))
        ax.xaxis.set_minor_formatter(NullFormatter())
        ax.tick_params(which="both", direction="in", top=True, right=False, length=3, width=0.7)
        ax.tick_params(which="minor", length=1.8)
        for sp in ax.spines.values():
            sp.set_linewidth(0.8)
            sp.set_color("black")

        if r == n_rows - 1:
            exps = [-4, -3, -2] + ([-1] if c == n_cols - 1 else [])
            ax.set_xticks([10.0 ** e for e in exps])
            ax.set_xticklabels([f"$10^{{{e}}}$" for e in exps], fontsize=9)
        else:
            ax.set_xticks([1e-4, 1e-3, 1e-2, 1e-1])
            ax.set_xticklabels([])
        if c == 0:
            ax.set_yticklabels(["0.02", "0.04", "0.06"], fontsize=8)
        else:
            ax.set_yticklabels([])

# Q2 labels on the right of each row
for r, q in enumerate(Q2_VALUES):
    pos = axes[r, -1].get_position()
    fig.text(0.942, (pos.y0 + pos.y1) / 2, f"Q$^2$ = {q} GeV$^2$", ha="center", va="center", fontsize=16.5)

# beta labels under each column
beta_y = [0.006, 0.003, 0.006, 0.006, 0.008, 0.008, 0.010]
beta_dx = [0.006, 0.003, 0.0, 0.002, 0.004, 0.007, 0.0]
for c, b in enumerate(BETAS):
    pos = axes[-1, c].get_position()
    fig.text((pos.x0 + pos.x1) / 2 + beta_dx[c], beta_y[c], f"β={b}", ha="center", va="bottom", fontsize=14)

fig.text(0.486, 0.065, "x$_{IP}$", ha="center", va="center", fontsize=30)
fig.text(0.035, 0.51, "x$_{IP}$ F$_2^{D(3)}$", ha="center", va="center", rotation=90, fontsize=31)

handles = [
    Line2D([], [], marker="s", color="black", linestyle="none", markersize=9),
    Line2D([], [], color="red", linewidth=1.2),
    Line2D([], [], color="black", linestyle=(0, (4, 3)), linewidth=1.0),
    Line2D([], [], color="blue", linestyle=(0, (1, 2)), linewidth=1.1),
]
labels = [
    "H1 M$_Y$<1.6 GeV",
    "FS04 sat b = 6.8 GeV$^{-2}$",
    "FS04 no sat b = 8 GeV$^{-2}$",
    "CGC b = 6.8 GeV$^{-2}$",
]
fig.legend(handles, labels, loc="upper right", bbox_to_anchor=(1.0, 1.005), frameon=False,
           fontsize=13.5, handlelength=2.5, labelspacing=0.62, handletextpad=0.4, borderaxespad=0.3)

plt.savefig("out.png", dpi=100)
plt.close()
